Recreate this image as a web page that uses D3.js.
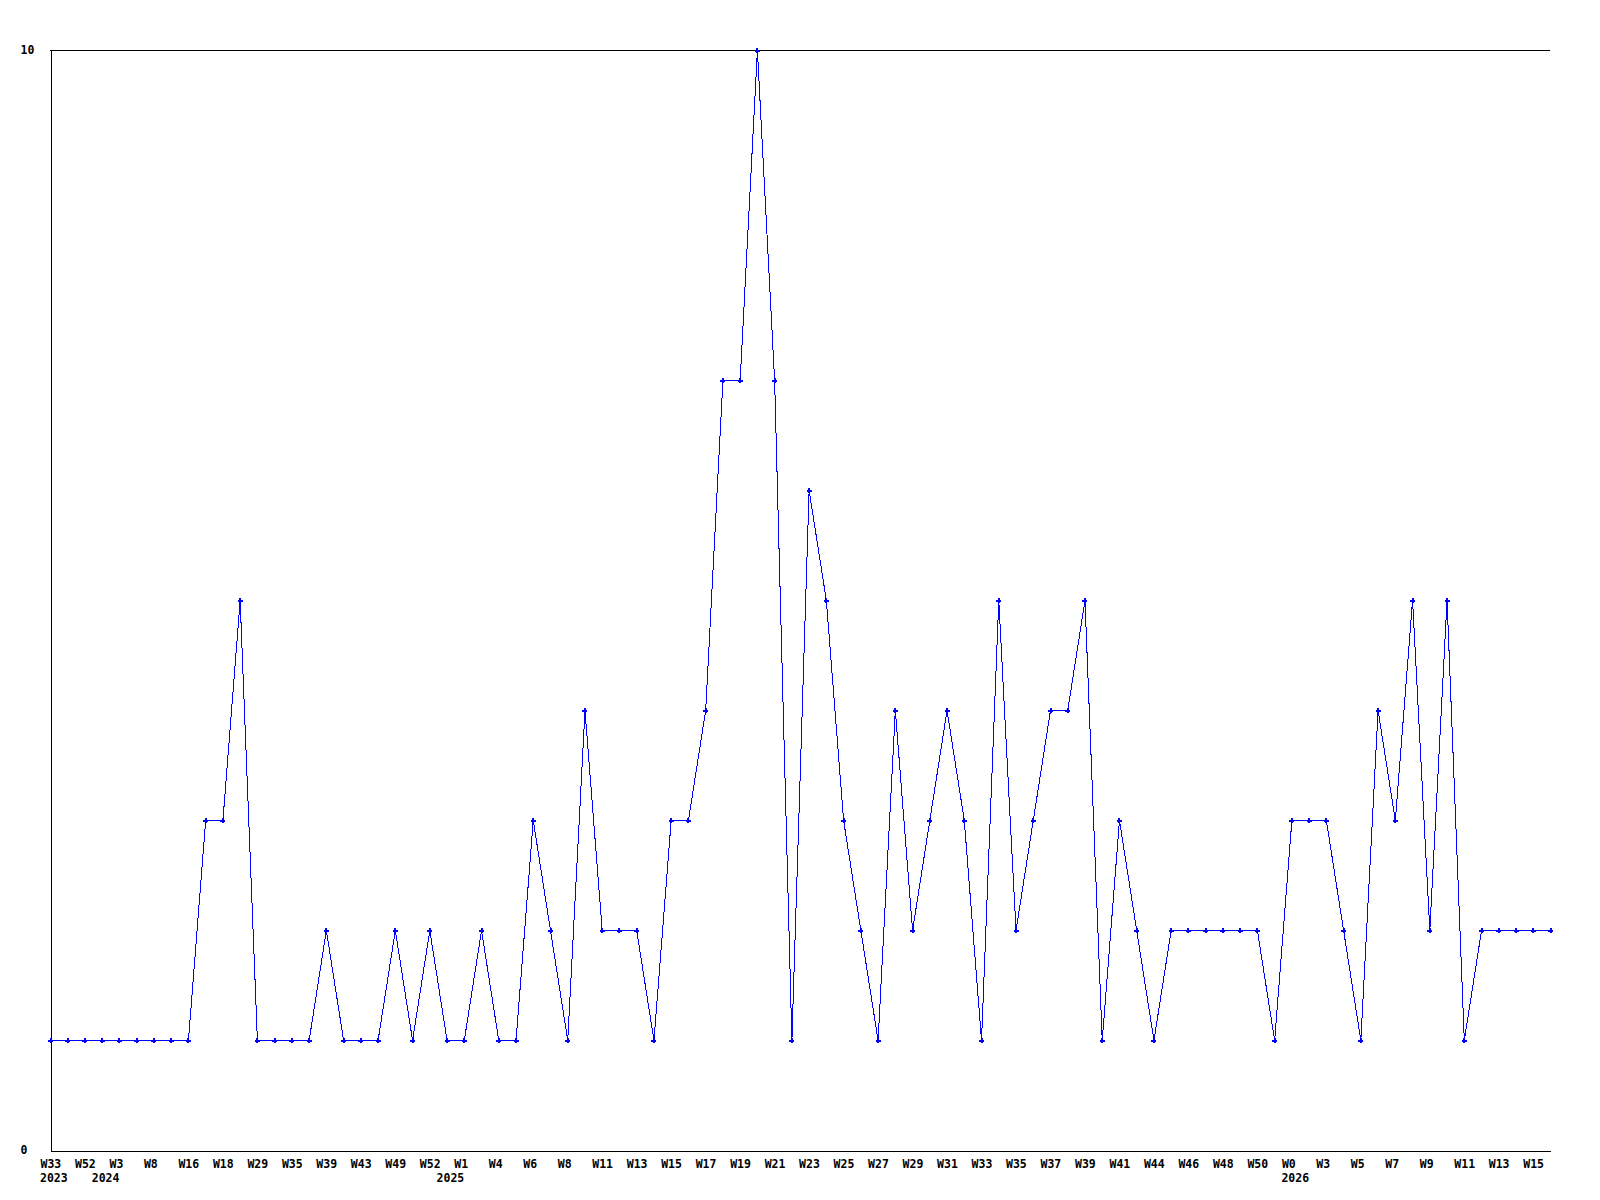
<!DOCTYPE html>
<html>
<head>
<meta charset="utf-8">
<script src="https://cdn.jsdelivr.net/npm/d3@7"></script>
<style>
  html, body { margin: 0; padding: 0; background: #fff; }
  svg text { font-family: "DejaVu Sans Mono", "Liberation Mono", monospace; font-weight: bold; font-size: 11.5px; fill: #000; }
</style>
</head>
<body>
<svg id="chart" width="1600" height="1200"></svg>
<script>
// Weekly values (88 weeks, equally spaced points)
const values = [
  1,1,1,1,1,1,1,1,1,3,
  3,5,1,1,1,1,2,1,1,1,
  2,1,2,1,1,2,1,1,3,2,
  1,4,2,2,2,1,3,3,4,7,
  7,10,7,1,6,5,3,2,1,4,
  2,3,4,3,1,5,2,3,4,4,
  5,1,3,2,1,2,2,2,2,2,
  2,1,3,3,3,2,1,4,3,5,
  2,5,1,2,2,2,2,2
];
// Week tick labels shown (every second point)
const tickIndex = [0,2,4,6,8,10,12,14,16,18,20,22,24,26,28,30,32,34,36,38,40,42,44,46,48,50,52,54,56,58,60,62,64,66,68,70,72,74,76,78,80,82,84,86];
const tickLabel = ["W33","W52","W3","W8","W16","W18","W29","W35","W39","W43","W49","W52","W1","W4","W6","W8","W11","W13","W15","W17","W19","W21","W23","W25","W27","W29","W31","W33","W35","W37","W39","W41","W44","W46","W48","W50","W0","W3","W5","W7","W9","W11","W13","W15"];
// Year labels
const yearIndex = [0, 3, 23, 72];
const yearLabel = ["2023", "2024", "2025", "2026"];
const yTicks = [0, 10];

const svg = d3.select("#chart");
const mLeft = 50, mRight = 1550, mTop = 50, mBottom = 1150;

const x = d3.scaleLinear().domain([0, values.length - 1]).range([mLeft, mRight]);
const y = d3.scaleLinear().domain([0, 10]).range([mBottom, mTop]);

// top border
svg.append("line")
  .attr("x1", mLeft).attr("x2", mRight).attr("y1", mTop + 0.5).attr("y2", mTop + 0.5)
  .attr("stroke", "#000").attr("shape-rendering", "crispEdges");

// x axis
const xAxis = d3.axisBottom(x)
  .tickValues(tickIndex)
  .tickFormat((d, i) => tickLabel[i])
  .tickSize(0).tickSizeOuter(0);
const gx = svg.append("g").attr("transform", `translate(0,${mBottom + 0.5})`).call(xAxis);
gx.attr("font-family", null).attr("font-size", null);
gx.select(".domain").attr("stroke", "#000").attr("shape-rendering", "crispEdges");
gx.selectAll(".tick text")
  .attr("text-anchor", "start").attr("x", -10).attr("y", 17).attr("dy", null);

// year labels
svg.append("g").selectAll("text").data(yearIndex).join("text")
  .attr("x", (d) => x(d) - 10)
  .attr("y", mBottom + 32)
  .text((d, i) => yearLabel[i]);

// y axis
const yAxis = d3.axisLeft(y).tickValues(yTicks).tickFormat(d3.format("d")).tickSize(0).tickSizeOuter(0);
const gy = svg.append("g").attr("transform", `translate(${mLeft + 0.5},0)`).call(yAxis);
gy.attr("font-family", null).attr("font-size", null);
gy.select(".domain").attr("stroke", "#000").attr("shape-rendering", "crispEdges");
gy.selectAll(".tick text").attr("text-anchor", "start").attr("x", -30).attr("dy", "0.32em");

// line
const line = d3.line().x((d, i) => x(i) + 0.5).y((d) => y(d) + 0.5);
svg.append("path").datum(values)
  .attr("d", line)
  .attr("fill", "none")
  .attr("stroke", "#0000ff")
  .attr("stroke-width", 1)
  .attr("shape-rendering", "crispEdges");

// markers (small cross-diamond)
const marker = "M-1,-2.5h2v1.5h1.5v2h-1.5v1.5h-2v-1.5h-1.5v-2h1.5z";
svg.append("g").selectAll("path").data(values).join("path")
  .attr("transform", (d, i) => `translate(${x(i) + 0.5},${y(d) + 0.5})`)
  .attr("d", marker)
  .attr("fill", "#0000ff")
  .attr("shape-rendering", "crispEdges");
</script>
</body>
</html>
